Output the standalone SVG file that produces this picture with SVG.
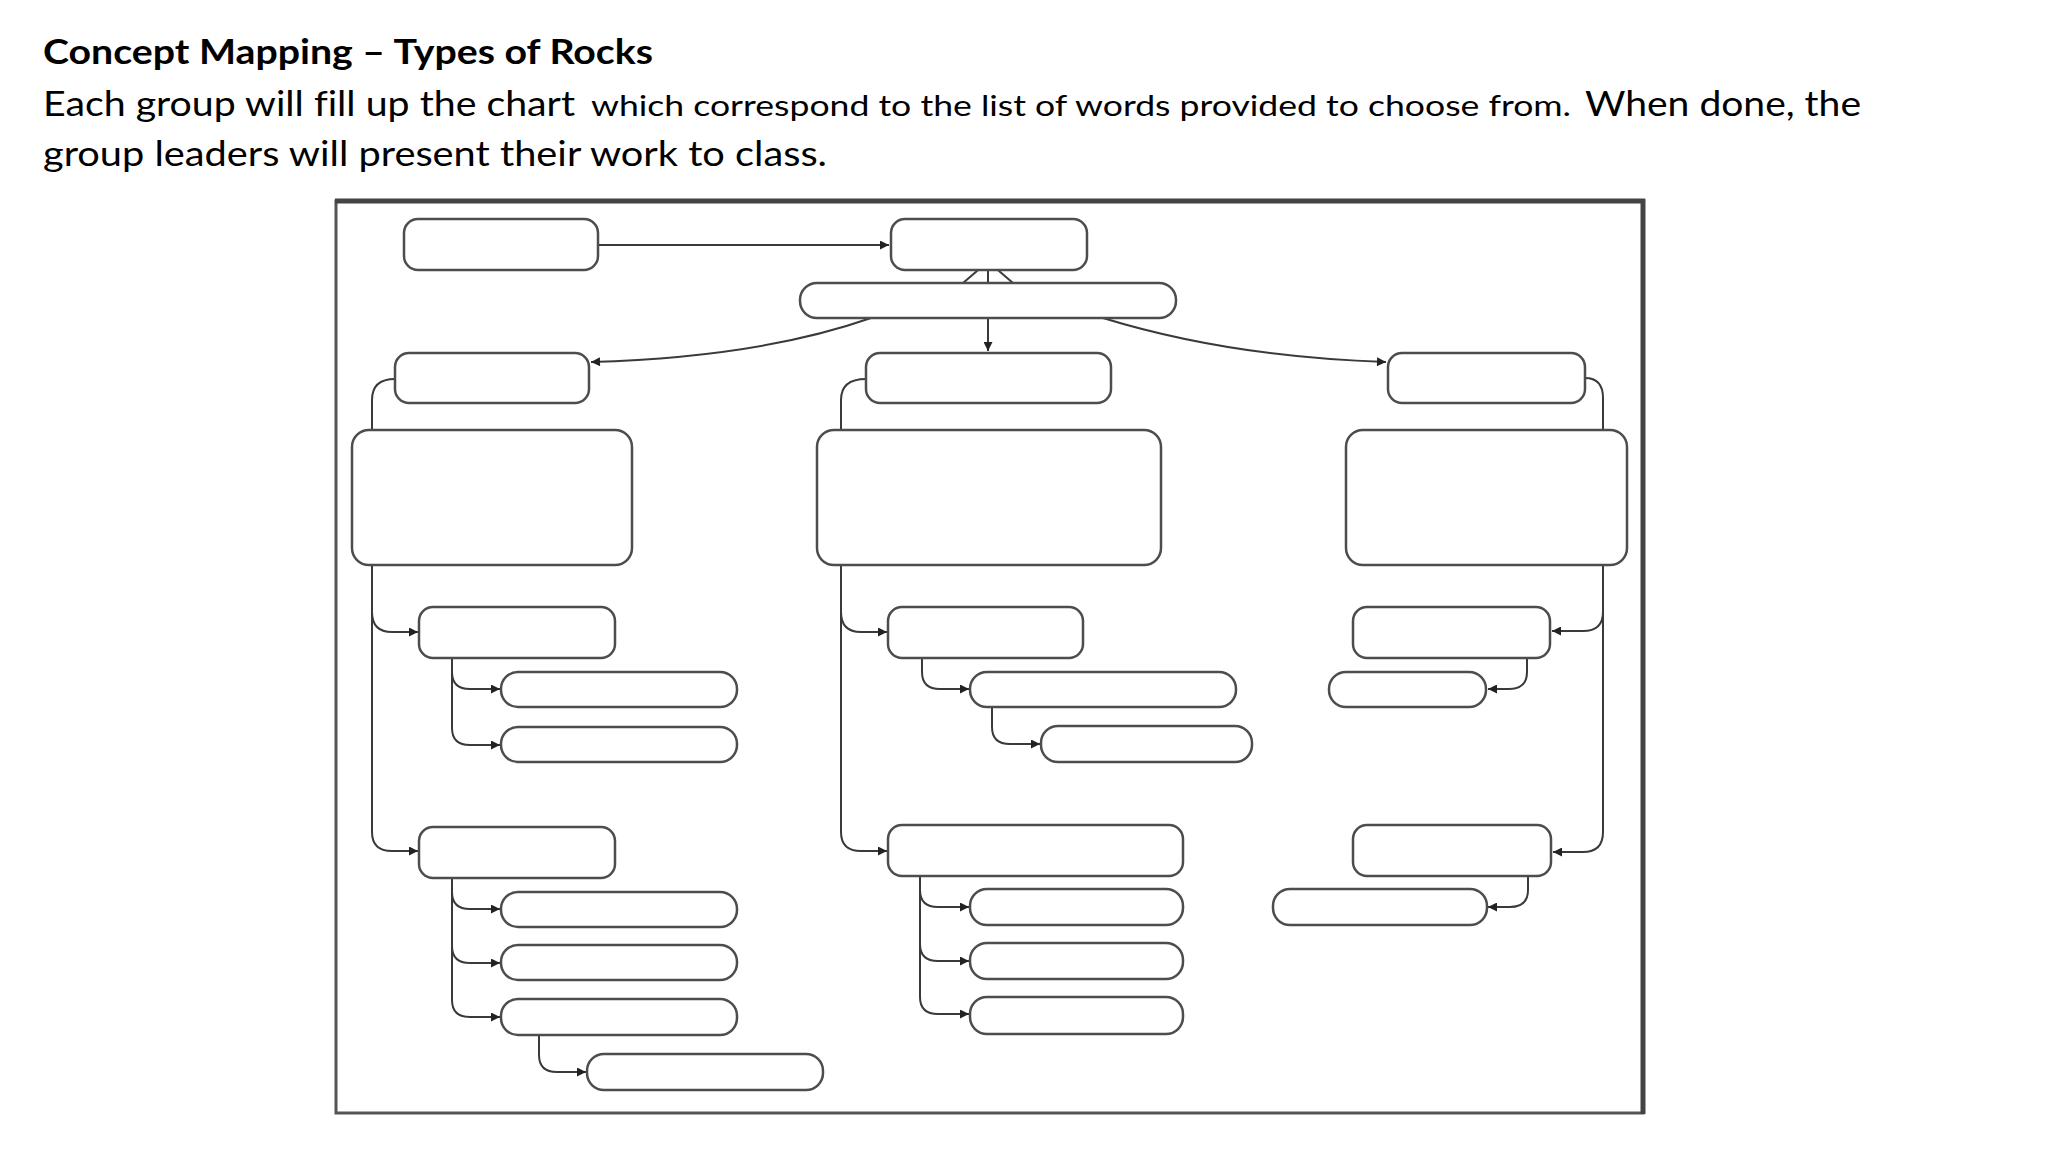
<svg xmlns="http://www.w3.org/2000/svg" width="2048" height="1152" viewBox="0 0 2048 1152">
  <defs>
    <marker id="arr" viewBox="0 0 10 10" refX="10" refY="5" markerWidth="11" markerHeight="9" markerUnits="userSpaceOnUse" orient="auto">
      <path d="M0,0 L10,5 L0,10 Z" fill="#222"/>
    </marker>
    <style>
      .node { fill: #ffffff; stroke: #4d4d4d; stroke-width: 2.5; }
      .conn { fill: none; stroke: #3a3a3a; stroke-width: 2; }
      text { font-variant-ligatures: none; font-feature-settings: "liga" 0; }
      .title { font-family: "Lato", "Open Sans", "Liberation Sans", sans-serif; font-weight: bold; font-size: 35px; fill: #000; }
      .big { font-family: "Lato", "Open Sans", "Liberation Sans", sans-serif; font-size: 34px; fill: #000; }
      .small { font-family: "Lato", "Open Sans", "Liberation Sans", sans-serif; font-size: 29px; fill: #000; }
    </style>
  </defs>
  <rect x="0" y="0" width="2048" height="1152" fill="#ffffff"/>

  <g id="heading">
    <text class="title" x="43" y="64" textLength="610" lengthAdjust="spacingAndGlyphs">Concept Mapping – Types of Rocks</text>
    <text class="big" x="43" y="116" textLength="532" lengthAdjust="spacingAndGlyphs">Each group will fill up the chart</text>
    <text class="small" x="591" y="116" textLength="980" lengthAdjust="spacingAndGlyphs">which correspond to the list of words provided to choose from.</text>
    <text class="big" x="1585" y="116" textLength="276" lengthAdjust="spacingAndGlyphs">When done, the</text>
    <text class="big" x="43" y="166" textLength="784" lengthAdjust="spacingAndGlyphs">group leaders will present their work to class.</text>
  </g>

  <g id="frame">
    <rect x="336" y="201" width="1307" height="912" fill="none" stroke="#555" stroke-width="3"/>
    <line x1="335" y1="201" x2="1645" y2="201" stroke="#444" stroke-width="5"/>
    <line x1="1643" y1="199" x2="1643" y2="1114" stroke="#444" stroke-width="5"/>
  </g>

  <g id="connectors">
    <path class="conn" d="M598 245 H889" marker-end="url(#arr)"/>
    <path class="conn" d="M988 283 V268 M963 283 L984 265 M1013 283 L992 265"/>
    <path class="conn" d="M988 318 V351" marker-end="url(#arr)"/>
    <path class="conn" d="M871 318 Q760 357 591 362" marker-end="url(#arr)"/>
    <path class="conn" d="M1103 318 Q1230 357 1386 362" marker-end="url(#arr)"/>
    <path class="conn" d="M395 379 Q372 379 372 400 V832 Q372 851 392 851 H418" marker-end="url(#arr)"/>
    <path class="conn" d="M372 612 Q372 632 392 632 H418" marker-end="url(#arr)"/>
    <path class="conn" d="M452 658 V728 Q452 745 470 745 H500" marker-end="url(#arr)"/>
    <path class="conn" d="M452 672 Q452 689 470 689 H500" marker-end="url(#arr)"/>
    <path class="conn" d="M452 878 V1000 Q452 1017 470 1017 H500" marker-end="url(#arr)"/>
    <path class="conn" d="M452 892 Q452 909 470 909 H500" marker-end="url(#arr)"/>
    <path class="conn" d="M452 946 Q452 963 470 963 H500" marker-end="url(#arr)"/>
    <path class="conn" d="M539 1035 V1055 Q539 1072 557 1072 H586" marker-end="url(#arr)"/>
    <path class="conn" d="M866 379 Q841 379 841 400 V832 Q841 851 861 851 H887" marker-end="url(#arr)"/>
    <path class="conn" d="M841 612 Q841 632 861 632 H887" marker-end="url(#arr)"/>
    <path class="conn" d="M922 658 V672 Q922 689 940 689 H969" marker-end="url(#arr)"/>
    <path class="conn" d="M992 707 V727 Q992 744 1010 744 H1040" marker-end="url(#arr)"/>
    <path class="conn" d="M920 876 V997 Q920 1014 938 1014 H969" marker-end="url(#arr)"/>
    <path class="conn" d="M920 890 Q920 907 938 907 H969" marker-end="url(#arr)"/>
    <path class="conn" d="M920 944 Q920 961 938 961 H969" marker-end="url(#arr)"/>
    <path class="conn" d="M1585 378 Q1603 378 1603 398 V832 Q1603 852 1583 852 H1553" marker-end="url(#arr)"/>
    <path class="conn" d="M1603 612 Q1603 631 1583 631 H1552" marker-end="url(#arr)"/>
    <path class="conn" d="M1527 658 V672 Q1527 689 1509 689 H1488" marker-end="url(#arr)"/>
    <path class="conn" d="M1528 876 V890 Q1528 907 1510 907 H1488" marker-end="url(#arr)"/>
  </g>

  <g id="n-top-left"><rect class="node" x="404" y="219" width="194" height="51" rx="14"/></g>
  <g id="n-top-center"><rect class="node" x="891" y="219" width="196" height="51" rx="14"/></g>
  <g id="n-pill"><rect class="node" x="800" y="283" width="376" height="35" rx="17"/></g>

  <g id="n-c1"><rect class="node" x="395" y="353" width="194" height="50" rx="14"/></g>
  <g id="n-c2"><rect class="node" x="866" y="353" width="245" height="50" rx="14"/></g>
  <g id="n-c3"><rect class="node" x="1388" y="353" width="197" height="50" rx="14"/></g>

  <g id="n-big1"><rect class="node" x="352" y="430" width="280" height="135" rx="17"/></g>
  <g id="n-big2"><rect class="node" x="817" y="430" width="344" height="135" rx="17"/></g>
  <g id="n-big3"><rect class="node" x="1346" y="430" width="281" height="135" rx="17"/></g>

  <g id="n-l1"><rect class="node" x="419" y="607" width="196" height="51" rx="14"/></g>
  <g id="n-l1a"><rect class="node" x="501" y="672" width="236" height="35" rx="17"/></g>
  <g id="n-l1b"><rect class="node" x="501" y="727" width="236" height="35" rx="17"/></g>
  <g id="n-l2"><rect class="node" x="419" y="827" width="196" height="51" rx="14"/></g>
  <g id="n-l2a"><rect class="node" x="501" y="892" width="236" height="35" rx="17"/></g>
  <g id="n-l2b"><rect class="node" x="501" y="945" width="236" height="35" rx="17"/></g>
  <g id="n-l2c"><rect class="node" x="501" y="999" width="236" height="36" rx="17"/></g>
  <g id="n-l2d"><rect class="node" x="587" y="1054" width="236" height="36" rx="17"/></g>

  <g id="n-m1"><rect class="node" x="888" y="607" width="195" height="51" rx="14"/></g>
  <g id="n-m1a"><rect class="node" x="970" y="672" width="266" height="35" rx="17"/></g>
  <g id="n-m1b"><rect class="node" x="1041" y="726" width="211" height="36" rx="17"/></g>
  <g id="n-m2"><rect class="node" x="888" y="825" width="295" height="51" rx="14"/></g>
  <g id="n-m2a"><rect class="node" x="970" y="889" width="213" height="36" rx="17"/></g>
  <g id="n-m2b"><rect class="node" x="970" y="943" width="213" height="36" rx="17"/></g>
  <g id="n-m2c"><rect class="node" x="970" y="997" width="213" height="37" rx="17"/></g>

  <g id="n-r1"><rect class="node" x="1353" y="607" width="197" height="51" rx="14"/></g>
  <g id="n-r1a"><rect class="node" x="1329" y="672" width="157" height="35" rx="17"/></g>
  <g id="n-r2"><rect class="node" x="1353" y="825" width="198" height="51" rx="14"/></g>
  <g id="n-r2a"><rect class="node" x="1273" y="889" width="214" height="36" rx="17"/></g>
</svg>
